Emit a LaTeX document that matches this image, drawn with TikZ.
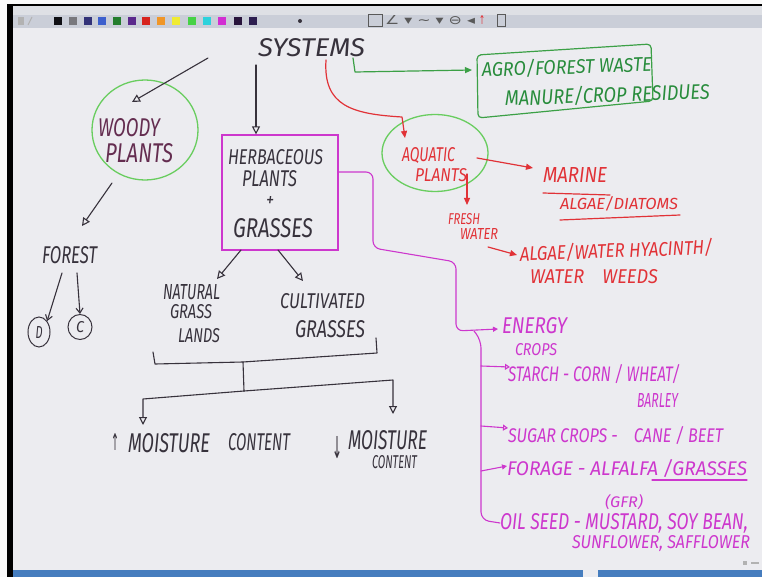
\documentclass[tikz,border=0pt]{standalone}
\usepackage{fontspec}
\setmainfont{Fira Sans}
\newfontfamily\dejavu{DejaVu Sans}
\usetikzlibrary{arrows.meta,shapes.geometric}
\definecolor{canvas}{RGB}{236,236,240}
\definecolor{tbarA}{RGB}{222,224,229}
\definecolor{tbarB}{RGB}{202,206,216}
\definecolor{ink}{RGB}{55,50,60}
\definecolor{woodyink}{RGB}{100,45,80}
\definecolor{gline}{RGB}{60,160,70}
\definecolor{gcirc}{RGB}{105,205,95}
\definecolor{gtext}{RGB}{40,140,60}
\definecolor{rink}{RGB}{225,50,55}
\definecolor{mink}{RGB}{205,55,205}
\definecolor{bbar}{RGB}{70,125,190}
\definecolor{swa}{RGB}{15,15,20}
\definecolor{swb}{RGB}{120,120,125}
\definecolor{swc}{RGB}{50,50,120}
\definecolor{swd}{RGB}{60,95,205}
\definecolor{swe}{RGB}{35,125,45}
\definecolor{swf}{RGB}{90,40,140}
\definecolor{swg}{RGB}{215,35,30}
\definecolor{swh}{RGB}{240,150,40}
\definecolor{swi}{RGB}{240,235,50}
\definecolor{swj}{RGB}{70,210,70}
\definecolor{swk}{RGB}{45,210,220}
\definecolor{swl}{RGB}{210,45,210}
\definecolor{swm}{RGB}{40,20,60}
\definecolor{swn}{RGB}{45,30,80}
\newcommand\fitto[3]{\resizebox{#1pt}{#2pt}{\itshape #3}}
\newcommand\fitsym[3]{\resizebox{#1pt}{#2pt}{\dejavu #3}}
\begin{document}
\begin{tikzpicture}[x=1pt,y=-1pt,
  lbl/.style={inner sep=0pt,outer sep=0pt,anchor=base west},
  tk/.style={lbl,text=ink},
  tw/.style={lbl,text=woodyink},
  tg/.style={lbl,text=gtext},
  tr/.style={lbl,text=rink},
  tm/.style={lbl,text=mink},
  kline/.style={draw=ink,line width=1.1pt,line cap=round,line join=round},
  gl/.style={draw=gline,line width=1.2pt,line cap=round,line join=round},
  rl/.style={draw=rink,line width=1.2pt,line cap=round,line join=round},
  ml/.style={draw=mink,line width=1.1pt,line cap=round,line join=round},
  opentip/.style={-{Triangle[open,length=8pt,width=8pt]}},
  fulltip/.style={-{Triangle[length=7pt,width=6pt]}},
  barbtip/.style={-{Straight Barb[length=5pt,width=7pt]}},
  smalltip/.style={-{Triangle[length=5pt,width=5pt]}},
  smallopen/.style={-{Triangle[open,length=5pt,width=6pt]}},
]
\useasboundingbox (0,0) rectangle (762,577);
% ---------- screen frame ----------
\fill[canvas] (0,0) rectangle (762,577);
\fill[white!96!gray] (0,0) rectangle (762,4);
\fill[white!96!gray] (0,0) rectangle (7,577);
\fill[black] (7,4) rectangle (762,6.5);
\fill[black] (7,4) rectangle (13,577);
\fill[tbarA] (13,6.5) rectangle (762,15);
\fill[tbarB] (13,15) rectangle (762,28);
\foreach \xx/\cc in {54/swa,69/swb,84/swc,98/swd,113/swe,128/swf,142/swg,157/swh,172/swi,188/swj,203/swk,218/swl,234/swm,249/swn}
  \fill[\cc] (\xx,17) rectangle ++(8,8);
\fill[gray!60] (18,17) rectangle ++(6,8);
\draw[gray!60,line width=1pt] (28,25) -- (32,17);
\fill[ink] (300,21) circle (2);
\draw[gray!70!black,line width=0.8pt] (368,14) rectangle (382,26);
\node[inner sep=0pt,text=gray!70!black] (tools) at (430,20) {\fitsym{90}{9}{∠ ▾ ∼ ▾ ⊖ ◂}};
\node[inner sep=0pt,text=rink] (toolr) at (482,20) {\fitsym{6}{9}{↑}};
\draw[gray!70!black,line width=0.8pt] (497,14) rectangle (505,26);
\fill[bbar] (13,570) rectangle (583,577);
\fill[bbar] (598,570) rectangle (762,577);
\fill[gray!60] (743,561) rectangle ++(4,4);
\fill[gray!60] (751,562) rectangle ++(8,2);
% ---------- texts ----------
\node[tk] (systems) at (258,57) {\fitto{107}{18}{SYSTEMS}};
\node[tw] (woodyA) at (98,137) {\fitto{62}{18}{WOODY}};
\node[tw] (woodyB) at (105,163) {\fitto{68}{19}{PLANTS}};
\node[tk] (forest) at (42,263) {\fitto{55}{17}{FOREST}};
\node[tk] (herbA) at (228,165) {\fitto{95}{15}{HERBACEOUS}};
\node[tk] (herbB) at (242,187) {\fitto{55}{16}{PLANTS}};
\node[tk] (herbC) at (266,207) {\fitto{8}{10}{+}};
\node[tk] (herbD) at (233,237) {\fitto{80}{19}{GRASSES}};
\node[tk] (natA) at (163,299) {\fitto{57}{15}{NATURAL}};
\node[tk] (natB) at (170,318) {\fitto{42}{14}{GRASS}};
\node[tk] (natC) at (178,342) {\fitto{42}{14}{LANDS}};
\node[tk] (cultA) at (280,308) {\fitto{85}{15}{CULTIVATED}};
\node[tk] (cultB) at (295,337) {\fitto{70}{17}{GRASSES}};
\node[tk] (upsym) at (111,450) {\fitsym{8}{17}{↑}};
\node[tk] (moistA) at (128,452) {\fitto{82}{19}{MOISTURE}};
\node[tk] (contA) at (228,450) {\fitto{62}{17}{CONTENT}};
\node[tk] (downsym) at (332,458) {\fitsym{10}{22}{↓}};
\node[tk] (moistB) at (348,449) {\fitto{79}{19}{MOISTURE}};
\node[tk] (contB) at (372,468) {\fitto{45}{13}{CONTENT}};
\node[tg,rotate=2] (agroA) at (482,77) {\fitto{170}{16}{AGRO/FOREST WASTE}};
\node[tg,rotate=2] (agroB) at (505,106) {\fitto{205}{17}{MANURE/CROP RESIDUES}};
\node[tr] (aqA) at (402,162) {\fitto{53}{14}{AQUATIC}};
\node[tr] (aqB) at (415,182) {\fitto{52}{13}{PLANTS}};
\node[tr] (marine) at (543,183) {\fitto{64}{15}{MARINE}};
\node[tr] (diatoms) at (560,210) {\fitto{118}{13}{ALGAE/DIATOMS}};
\node[tr] (freshA) at (448,225) {\fitto{32}{11}{FRESH}};
\node[tr] (freshB) at (460,240) {\fitto{38}{11}{WATER}};
\node[tr,rotate=2] (hyacA) at (520,261) {\fitto{193}{16}{ALGAE/WATER HYACINTH/}};
\node[tr] (hyacB) at (530,283) {\fitto{128}{14}{WATER\quad WEEDS}};
\node[tm] (enA) at (502,333) {\fitto{65}{16}{ENERGY}};
\node[tm] (enB) at (515,355) {\fitto{42}{12}{CROPS}};
\node[tm] (starA) at (508,381) {\fitto{172}{17}{STARCH - CORN / WHEAT/}};
\node[tm] (starB) at (637,407) {\fitto{41}{14}{BARLEY}};
\node[tm] (sugar) at (508,442) {\fitto{215}{16}{SUGAR CROPS -\quad CANE / BEET}};
\node[tm] (forage) at (507,475) {\fitto{240}{16}{FORAGE - ALFALFA /GRASSES}};
\node[tm] (gfr) at (605,507) {\fitto{38}{13}{(GFR)}};
\node[tm] (oilA) at (500,529) {\fitto{248}{16}{OIL SEED - MUSTARD, SOY BEAN,}};
\node[tm] (oilB) at (572,548) {\fitto{178}{13}{SUNFLOWER, SAFFLOWER}};
% ---------- shapes ----------
\node[ellipse,draw=gcirc,line width=1.3pt,minimum width=106pt,minimum height=100pt,inner sep=0pt] (woody) at (145,130) {};
\node[ellipse,draw=gcirc,line width=1.3pt,minimum width=106pt,minimum height=77pt,inner sep=0pt] (aquatic) at (435,153) {};
\node[draw=mink,line width=1.2pt,minimum width=116pt,minimum height=115pt,inner sep=0pt] (herb) at (280,192.5) {};
\node[ellipse,draw=ink,line width=1pt,minimum width=22pt,minimum height=30pt,inner sep=0pt,text=ink] (dnode) at (39,332) {\fitto{7}{12}{D}};
\node[ellipse,draw=ink,line width=1pt,minimum width=24pt,minimum height=25pt,inner sep=0pt,text=ink] (cnode) at (80,327) {\fitto{8}{11}{C}};
\draw[gl,rounded corners=4pt] (477,55) -- (651,44) -- (653,101) -- (478,118) -- cycle;
% ---------- coordinates ----------
\coordinate (sysL) at (208,58);
\coordinate (woodyIn) at (132,102);
\coordinate (woodyOut) at (112,183);
\coordinate (forIn) at (82,226);
\coordinate (forOutA) at (62,273);
\coordinate (forOutB) at (77,273);
\coordinate (sysD) at (256,65);
\coordinate (herbBL) at (241,250);
\coordinate (herbBR) at (278,250);
\coordinate (natIn) at (217,279);
\coordinate (cultIn) at (303,281);
\coordinate (brA) at (153,352);
\coordinate (brB) at (155,364);
\coordinate (brC) at (243,362);
\coordinate (brD) at (377,353);
\coordinate (brE) at (376,338);
\coordinate (junc) at (244,391);
\coordinate (lineL) at (143,399);
\coordinate (lineR) at (393,380);
\coordinate (tipL) at (143,425);
\coordinate (tipR) at (393,414);
\coordinate (sysS) at (353,58);
\coordinate (agroIn) at (472,70);
\coordinate (sysM) at (326,60);
\coordinate (aqIn) at (405,138);
\coordinate (aqR) at (477,158);
\coordinate (marIn) at (533,168);
\coordinate (aqBot) at (467,174);
\coordinate (freshIn) at (467,205);
\coordinate (freshOut) at (488,247);
\coordinate (hyacIn) at (517,255);
\coordinate (herbR) at (338,172);
\coordinate (enIn) at (498,329);
\coordinate (trTop) at (474,331);
\coordinate (starIn) at (510,367);
\coordinate (sugIn) at (508,428);
\coordinate (forIn2) at (507,466);
\coordinate (oilIn) at (500,523);
% ---------- connectors ----------
\draw[kline,opentip] (sysL) -- (woodyIn);
\draw[kline,opentip] (woodyOut) -- (forIn);
\draw[kline,barbtip] (forOutA) -- (dnode.north east);
\draw[kline,barbtip] (forOutB) -- (cnode.north);
\draw[kline,opentip] (sysD) -- (sysD |- herb.north);
\draw[kline,opentip] (herbBL) -- (natIn);
\draw[kline,opentip] (herbBR) -- (cultIn);
\draw[kline] (brA) -- (brB) -- (brC) -- (brD) -- (brE);
\draw[kline] (brC) -- (junc);
\draw[kline,opentip] (junc) -- (lineL) -- (tipL);
\draw[kline,opentip] (junc) -- (lineR) -- (tipR);
\draw[gl,fulltip] (sysS) -- (355,72) -- (agroIn);
\draw[rl,fulltip] (sysM) .. controls (323,106) and (352,114) .. (402,117) -- (aqIn);
\draw[rl,fulltip] (aqR) -- (marIn);
\draw[rl,fulltip] (aqBot) -- (freshIn);
\draw[rl,fulltip] (freshOut) -- (hyacIn);
\draw[rl] (543,193) -- (610,195);
\draw[rl] (560,220) -- (680,215);
\draw[ml,smalltip,rounded corners=7pt] (herbR) -- (373,172) -- (373,248) -- (456,262) -- (456,331) -- (enIn);
\draw[ml,rounded corners=8pt] (trTop) -- (481,340) -- (481,520) -- (oilIn);
\draw[ml,smallopen] (481,366) -- (starIn);
\draw[ml,smallopen] (481,426) -- (sugIn);
\draw[ml,smalltip] (481,471) -- (forIn2);
\draw[ml] (652,480) -- (747,480);
\end{tikzpicture}
\end{document}
